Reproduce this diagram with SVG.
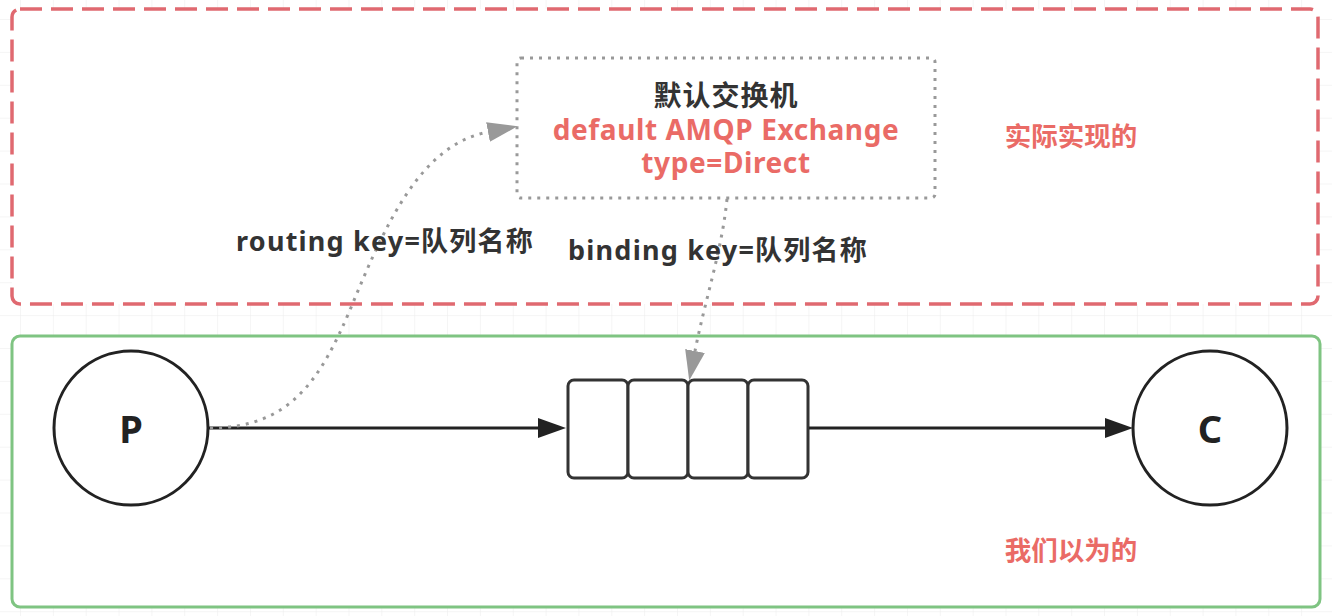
<svg xmlns="http://www.w3.org/2000/svg" width="1332" height="616" viewBox="0 0 1332 616">
<defs>
  <pattern id="grid" x="20" y="19" width="32.85" height="32.9" patternUnits="userSpaceOnUse">
    <path d="M0,0 H32.85 M0,0 V32.9" fill="none" stroke="#ececec" stroke-width="1"/>
  </pattern>
  <marker id="ahBlack" markerWidth="28" markerHeight="20" refX="0" refY="10" orient="auto" markerUnits="userSpaceOnUse">
    <path d="M0,0 L28,10 L0,20 Z" fill="#222"/>
  </marker>
  <marker id="ahGray" markerWidth="30" markerHeight="20" refX="0" refY="10" orient="auto" markerUnits="userSpaceOnUse">
    <path d="M0,0 L30,10 L0,20 Z" fill="#999"/>
  </marker>
</defs>
<style>
  .t { font-family: "Noto Sans", "Noto Sans CJK SC", sans-serif; font-weight: bold; }
  .dark { fill: #333; }
  .red { fill: #EA6B66; }
  .solid { fill: none; stroke: #222; stroke-width: 3; }
  .dot { fill: none; stroke: #999; stroke-width: 3; stroke-dasharray: 3 6; }
  .cell { fill: #fff; stroke: #333; stroke-width: 3; }
  .lbl { font-size: 27px; letter-spacing: 1.2px; }
  .ex { font-size: 28px; }
</style>
<rect width="1332" height="616" fill="#fff"/>
<rect width="1332" height="616" fill="url(#grid)"/>

<g id="actual-container">
  <rect x="12" y="9" width="1306" height="295" rx="8" fill="#fff" stroke="#E06970" stroke-width="3.5" stroke-dasharray="22 9"/>
  <text class="t red" x="1071" y="146" font-size="26.5" text-anchor="middle">实际实现的</text>
</g>
<g id="assumed-container">
  <rect x="12" y="336" width="1308" height="271" rx="8" fill="#fff" stroke="#7FC482" stroke-width="3"/>
  <text class="t red" x="1071" y="560" font-size="26.5" text-anchor="middle">我们以为的</text>
</g>

<g id="exchange">
  <rect x="517" y="58" width="418" height="140" rx="4" fill="#fff" stroke="#999" stroke-width="3" stroke-dasharray="3 6"/>
  <text class="t dark ex" x="726" y="106" text-anchor="middle" letter-spacing="1">默认交换机</text>
  <text class="t red ex" x="726" y="140" text-anchor="middle" letter-spacing="0.6">default AMQP Exchange</text>
  <text class="t red ex" x="726" y="173" text-anchor="middle" letter-spacing="0.6">type=Direct</text>
</g>

<g id="P">
  <circle cx="131" cy="428" r="77" fill="#fff" stroke="#222" stroke-width="3"/>
  <text class="t" x="131" y="443" font-size="38" text-anchor="middle" fill="#222">P</text>
</g>

<g id="C">
  <circle cx="1210" cy="428" r="77" fill="#fff" stroke="#222" stroke-width="3"/>
  <text class="t" x="1210" y="443" font-size="38" text-anchor="middle" fill="#222">C</text>
</g>

<g id="queue">
  <rect class="cell" x="568" y="380" width="60" height="98" rx="6"/>
  <rect class="cell" x="628" y="380" width="60" height="98" rx="6"/>
  <rect class="cell" x="688" y="380" width="60" height="98" rx="6"/>
  <rect class="cell" x="748" y="380" width="60" height="98" rx="6"/>
</g>

<g id="connectors">
  <path class="solid" d="M208,428 H538" marker-end="url(#ahBlack)"/>
  <path class="solid" d="M809,428 H1105" marker-end="url(#ahBlack)"/>
  <path class="dot" d="M210,428 C290,428 320,380 350,310 C385,225 420,145 488,132" marker-end="url(#ahGray)"/>
  <path class="dot" d="M727,199 C722,250 705,300 695,351" marker-end="url(#ahGray)"/>
  <text class="t dark lbl" x="385" y="251" text-anchor="middle">routing key=队列名称</text>
  <text class="t dark lbl" x="718" y="260" text-anchor="middle">binding key=队列名称</text>
</g>
</svg>
